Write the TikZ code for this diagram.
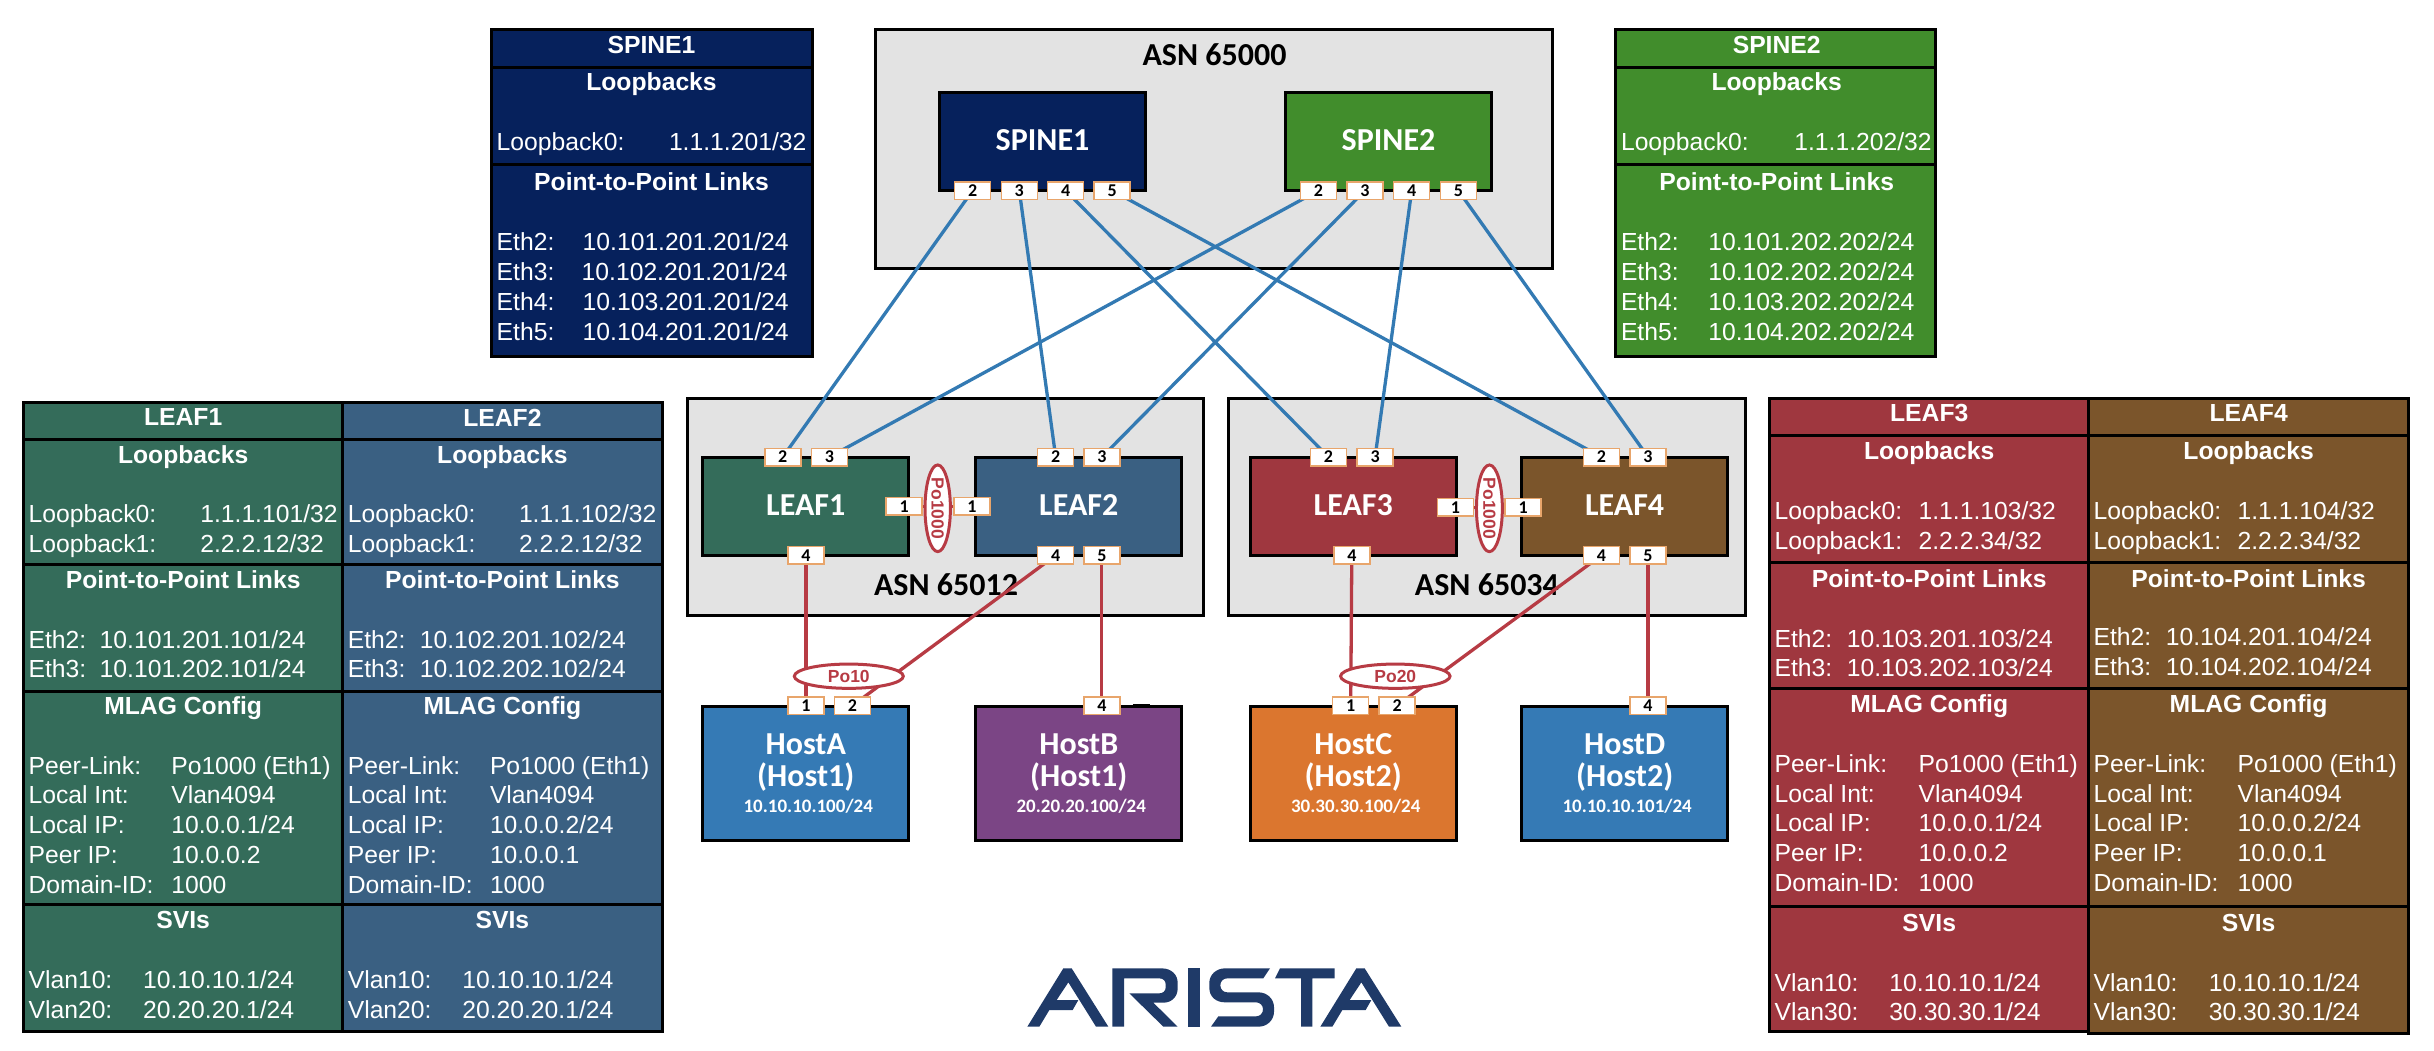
\documentclass[tikz,border=0pt]{standalone}
\usepackage{fontspec}
\setmainfont{Liberation Sans}
\newfontfamily\carl{Carlito}
\usetikzlibrary{shapes.geometric}
\pgfdeclarelayer{bg}
\pgfdeclarelayer{ln}
\pgfsetlayers{bg,ln,main}
\definecolor{cSpineA}{HTML}{06215C}
\definecolor{cSpineB}{HTML}{418D2C}
\definecolor{cLeafA}{HTML}{346C5A}
\definecolor{cLeafB}{HTML}{3A6082}
\definecolor{cLeafC}{HTML}{9F373F}
\definecolor{cLeafD}{HTML}{7B552B}
\definecolor{cHostA}{HTML}{357AB5}
\definecolor{cHostB}{HTML}{7B4585}
\definecolor{cHostC}{HTML}{DB762F}
\definecolor{cGrey}{HTML}{E3E3E3}
\definecolor{cWire}{HTML}{337AB3}
\definecolor{cRed}{HTML}{B73B44}
\definecolor{cPort}{HTML}{E8A56B}
\definecolor{cLogo}{HTML}{1F3A68}
\newcounter{tn}
\newcommand{\tabval}[3]{\stepcounter{tn}\node[tabtext,anchor=base west] (tx\arabic{tn}) at (#1,#2) {#3};}
\newcommand{\tabhead}[3]{\stepcounter{tn}\node[tabtext,anchor=base,font=\fontsize{24.7}{30}\selectfont\bfseries] (tx\arabic{tn}) at (#1,#2) {#3};}
\newcommand{\portbox}[4]{\node[portnode] (#1) at (#2,#3) {#4};}
\tikzset{
  x=1pt,y=-1pt,
  tabtext/.style={text=white,inner sep=0pt,outer sep=0pt,font=\fontsize{24.7}{30}\selectfont},
  cellbox/.style={draw=black,line width=3pt},
  asnbox/.style={draw=black,fill=cGrey,line width=3pt,inner sep=0pt,outer sep=0pt},
  asnlabel/.style={inner sep=0pt,text=black,font=\carl\fontsize{32}{32}\selectfont\bfseries},
  devbox/.style={draw=black,line width=3pt,inner sep=0pt,outer sep=0pt,text=white,minimum width=205.8pt,minimum height=98pt,text height=20pt,text depth=2.2pt,font=\carl\fontsize{32}{32}\selectfont\bfseries},
  hostbox/.style={draw=black,line width=3pt,inner sep=0pt,outer sep=0pt,text=white,minimum width=205.8pt,minimum height=133.6pt,align=center,font=\carl\fontsize{32}{32}\selectfont\bfseries},
  portnode/.style={draw=cPort,fill=white,line width=1.5pt,inner sep=0pt,outer sep=0pt,minimum width=36pt,minimum height=17.5pt,text=black,text height=11.4pt,text depth=0pt,font=\carl\fontsize{18}{18}\selectfont\bfseries},
  ponode/.style={shape=ellipse,draw=cRed,fill=white,line width=3pt,inner sep=0pt,outer sep=0pt,text=cRed,font=\fontsize{17.5}{18}\selectfont\bfseries},
  wire/.style={draw=cWire,line width=3.3pt},
  redwire/.style={draw=cRed,line width=3.3pt},
}
\newcommand{\ipline}[1]{\\[-6pt]{\fontsize{19}{19}\selectfont\hspace*{5pt}#1}}
\begin{document}
\begin{tikzpicture}
\useasboundingbox (0,0) rectangle (2434,1050);

% ---------- ASN areas
\begin{pgfonlayer}{bg}
\fill[white] (0,0) rectangle (2434,1050);
\node[asnbox,minimum width=676.5pt,minimum height=238.6pt] (asnA) at (1213.75,149) {};
\node[asnbox,minimum width=516.6pt,minimum height=217.4pt] (asnB) at (945.3,507) {};
\node[asnbox,minimum width=517pt,minimum height=217.4pt] (asnC) at (1486.5,507) {};
\node[asnlabel,anchor=base] (asnAt) at (1214.5,65.3) {ASN 65000};
\node[asnlabel,anchor=base] (asnBt) at (946,595.7) {ASN 65012};
\node[asnlabel,anchor=base] (asnCt) at (1486.9,595.7) {ASN 65034};
\end{pgfonlayer}

% ---------- devices
\node[devbox,fill=cSpineA] (spA) at (1042.5,141.5) {SPINE1};
\node[devbox,fill=cSpineB] (spB) at (1388.5,141.5) {SPINE2};
\node[devbox,fill=cLeafA] (lfA) at (805.75,506.1) {LEAF1};
\node[devbox,fill=cLeafB] (lfB) at (1078.75,506.1) {LEAF2};
\node[devbox,fill=cLeafC] (lfC) at (1353.25,506.1) {LEAF3};
\node[devbox,fill=cLeafD] (lfD) at (1624.65,506.1) {LEAF4};
\node[hostbox,fill=cHostA] (hA) at (805.75,773.5) {HostA\\(Host1)\ipline{10.10.10.100/24}};
\node[hostbox,fill=cHostB] (hB) at (1078.75,773.5) {HostB\\(Host1)\ipline{20.20.20.100/24}};
\node[hostbox,fill=cHostC] (hC) at (1353.25,773.5) {HostC\\(Host2)\ipline{30.30.30.100/24}};
\node[hostbox,fill=cHostA] (hD) at (1624.65,773.5) {HostD\\(Host2)\ipline{10.10.10.101/24}};
\draw[black,line width=2pt] (1132.9,704.6) -- (1149.6,704.6);

% ---------- ports
\portbox{sApTwo}{972.6}{190.5}{2}
\portbox{sApThree}{1019.3}{190.5}{3}
\portbox{sApFour}{1065.7}{190.5}{4}
\portbox{sApFive}{1112.1}{190.5}{5}
\portbox{sBpTwo}{1318.5}{190.5}{2}
\portbox{sBpThree}{1365}{190.5}{3}
\portbox{sBpFour}{1411.7}{190.5}{4}
\portbox{sBpFive}{1458.3}{190.5}{5}
\portbox{lApTwo}{782.8}{457}{2}
\portbox{lApThree}{829.4}{457}{3}
\portbox{lApOne}{904.2}{506.3}{1}
\portbox{lApFour}{805.9}{555.3}{4}
\portbox{lBpOne}{972}{506.3}{1}
\portbox{lBpTwo}{1055.7}{457}{2}
\portbox{lBpThree}{1102}{457}{3}
\portbox{lBpFour}{1055.7}{555.3}{4}
\portbox{lBpFive}{1101.8}{555.3}{5}
\portbox{lCpTwo}{1328.4}{457}{2}
\portbox{lCpThree}{1375.1}{457}{3}
\portbox{lCpOne}{1455.5}{507.3}{1}
\portbox{lCpFour}{1351.8}{555.3}{4}
\portbox{lDpOne}{1523.1}{507.3}{1}
\portbox{lDpTwo}{1601.4}{457}{2}
\portbox{lDpThree}{1648}{457}{3}
\portbox{lDpFour}{1601.4}{555.3}{4}
\portbox{lDpFive}{1648}{555.3}{5}
\portbox{hApOne}{805.9}{705.5}{1}
\portbox{hApTwo}{852.5}{705.5}{2}
\portbox{hBpFour}{1101.8}{705.5}{4}
\portbox{hCpOne}{1350.7}{705.5}{1}
\portbox{hCpTwo}{1397.1}{705.5}{2}
\portbox{hDpFour}{1648}{705.5}{4}

% ---------- port channels
\node[ponode,minimum width=109pt,minimum height=24.3pt] (poTen) at (848.8,676.2) {Po10};
\node[ponode,minimum width=109.5pt,minimum height=24.3pt] (poTwenty) at (1395.3,676.2) {Po20};
\node[ponode,rotate=-90,minimum width=76.7pt,minimum height=25.4pt] (poAB) at (937.7,508.3) {Po1000};
\node[ponode,rotate=-90,minimum width=76.7pt,minimum height=25.9pt] (poCD) at (1489.4,508.3) {Po1000};

% ---------- links
\begin{pgfonlayer}{ln}
\draw[wire] (sApTwo.center) -- (lApTwo.center);
\draw[wire] (sApThree.center) -- (lBpTwo.center);
\draw[wire] (sApFour.center) -- (lCpTwo.center);
\draw[wire] (sApFive.center) -- (lDpTwo.center);
\draw[wire] (sBpTwo.center) -- (lApThree.center);
\draw[wire] (sBpThree.center) -- (lBpThree.center);
\draw[wire] (sBpFour.center) -- (lCpThree.center);
\draw[wire] (sBpFive.center) -- (lDpThree.center);
\draw[redwire] (lApOne.center) -- (lBpOne.center);
\draw[redwire] (lCpOne.center) -- (lDpOne.center);
\draw[redwire] (lApFour.center) -- (hApOne.center);
\draw[redwire] (lBpFour.center) -- (hApTwo.center);
\draw[redwire] (lBpFive.center) -- (hBpFour.center);
\draw[redwire] (lCpFour.center) -- (hCpOne.center);
\draw[redwire] (lDpFour.center) -- (hCpTwo.center);
\draw[redwire] (lDpFive.center) -- (hDpFour.center);
\end{pgfonlayer}

% ---------- SPINE tables
\foreach \ya/\yb in {29/67,67/164,164/356}{
  \draw[cellbox,fill=cSpineA] (491,\ya) rectangle (812,\yb);
  \draw[cellbox,fill=cSpineB] (1615.7,\ya) rectangle (1935.7,\yb);
}
\tabhead{651.5}{53.3}{SPINE1}
\tabhead{651.5}{90}{Loopbacks}
\tabval{496.7}{150.7}{Loopback0:}
\tabval{669}{150.7}{1.1.1.201/32}
\tabhead{651.5}{190}{Point-to-Point Links}
\tabval{496.7}{250.7}{Eth2:}\tabval{582.7}{250.7}{10.101.201.201/24}
\tabval{496.7}{280}{Eth3:}\tabval{581.7}{280}{10.102.201.201/24}
\tabval{496.7}{310}{Eth4:}\tabval{582.7}{310}{10.103.201.201/24}
\tabval{496.7}{340}{Eth5:}\tabval{582.7}{340}{10.104.201.201/24}

\tabhead{1776.7}{53.3}{SPINE2}
\tabhead{1776.7}{90}{Loopbacks}
\tabval{1621}{150.7}{Loopback0:}
\tabval{1794.3}{150.7}{1.1.1.202/32}
\tabhead{1776.7}{190}{Point-to-Point Links}
\tabval{1621}{250.7}{Eth2:}\tabval{1708.3}{250.7}{10.101.202.202/24}
\tabval{1621}{280}{Eth3:}\tabval{1708.3}{280}{10.102.202.202/24}
\tabval{1621}{310}{Eth4:}\tabval{1708.3}{310}{10.103.202.202/24}
\tabval{1621}{340}{Eth5:}\tabval{1708.3}{340}{10.104.202.202/24}

% ---------- LEAF tables, left pair
\foreach \ya/\yb in {402/439.7,439.7/564.7,564.7/691,691/904.7,904.7/1031.8}{
  \draw[cellbox,fill=cLeafA] (23,\ya) rectangle (342.6,\yb);
  \draw[cellbox,fill=cLeafB] (342.6,\ya) rectangle (662.6,\yb);
}
\tabhead{183.2}{425.8}{LEAF1}
\tabhead{183.2}{463.6}{Loopbacks}
\tabval{28.6}{522.6}{Loopback0:}\tabval{200.3}{522.6}{1.1.1.101/32}
\tabval{28.6}{552.9}{Loopback1:}\tabval{200.3}{552.9}{2.2.2.12/32}
\tabhead{183.2}{588.7}{Point-to-Point Links}
\tabval{28.6}{648.4}{Eth2:}\tabval{99.7}{648.4}{10.101.201.101/24}
\tabval{28.6}{677.5}{Eth3:}\tabval{99.7}{677.5}{10.101.202.101/24}
\tabhead{183.2}{714.9}{MLAG Config}
\tabval{28.6}{774.3}{Peer-Link:}\tabval{171.3}{774.3}{Po1000 (Eth1)}
\tabval{28.6}{803.7}{Local Int:}\tabval{171.3}{803.7}{Vlan4094}
\tabval{28.6}{833.2}{Local IP:}\tabval{171.3}{833.2}{10.0.0.1/24}
\tabval{28.6}{863.5}{Peer IP:}\tabval{171.3}{863.5}{10.0.0.2}
\tabval{28.6}{893.4}{Domain-ID:}\tabval{171.3}{893.4}{1000}
\tabhead{183.2}{928.7}{SVIs}
\tabval{28.6}{988.5}{Vlan10:}\tabval{143.1}{988.5}{10.10.10.1/24}
\tabval{28.6}{1018}{Vlan20:}\tabval{143.1}{1018}{20.20.20.1/24}

\tabhead{502.4}{426.6}{LEAF2}
\tabhead{502.4}{463.6}{Loopbacks}
\tabval{347.8}{522.6}{Loopback0:}\tabval{519}{522.6}{1.1.1.102/32}
\tabval{347.8}{552.9}{Loopback1:}\tabval{519}{552.9}{2.2.2.12/32}
\tabhead{502.4}{588.7}{Point-to-Point Links}
\tabval{347.8}{648.4}{Eth2:}\tabval{419.8}{648.4}{10.102.201.102/24}
\tabval{347.8}{677.5}{Eth3:}\tabval{419.8}{677.5}{10.102.202.102/24}
\tabhead{502.4}{714.9}{MLAG Config}
\tabval{347.8}{774.3}{Peer-Link:}\tabval{490}{774.3}{Po1000 (Eth1)}
\tabval{347.8}{803.7}{Local Int:}\tabval{490}{803.7}{Vlan4094}
\tabval{347.8}{833.2}{Local IP:}\tabval{490}{833.2}{10.0.0.2/24}
\tabval{347.8}{863.5}{Peer IP:}\tabval{490}{863.5}{10.0.0.1}
\tabval{347.8}{893.4}{Domain-ID:}\tabval{490}{893.4}{1000}
\tabhead{502.4}{928.7}{SVIs}
\tabval{347.8}{988.5}{Vlan10:}\tabval{462.3}{988.5}{10.10.10.1/24}
\tabval{347.8}{1018}{Vlan20:}\tabval{462.3}{1018}{20.20.20.1/24}

% ---------- LEAF tables, right pair
\foreach \ya/\yb in {398.4/435.5,435.5/562.6,562.6/688.8,688.8/906.8,906.8/1031.4}{
  \draw[cellbox,fill=cLeafC] (1769.5,\ya) rectangle (2088.9,\yb);
}
\foreach \ya/\yb in {398.4/435.5,435.5/562.6,562.6/688.8,688.8/906.8,906.8/1033.5}{
  \draw[cellbox,fill=cLeafD] (2088.9,\ya) rectangle (2408.3,\yb);
}
\tabhead{1929.2}{421.6}{LEAF3}
\tabhead{1929.2}{459.4}{Loopbacks}
\tabval{1774.6}{519.6}{Loopback0:}\tabval{1918.6}{519.6}{1.1.1.103/32}
\tabval{1774.6}{549.1}{Loopback1:}\tabval{1918.6}{549.1}{2.2.2.34/32}
\tabhead{1929.2}{587.8}{Point-to-Point Links}
\tabval{1774.6}{647.2}{Eth2:}\tabval{1846.8}{647.2}{10.103.201.103/24}
\tabval{1774.6}{676.6}{Eth3:}\tabval{1846.8}{676.6}{10.103.202.103/24}
\tabhead{1929.2}{712.8}{MLAG Config}
\tabval{1774.6}{772.2}{Peer-Link:}\tabval{1918.6}{772.2}{Po1000 (Eth1)}
\tabval{1774.6}{802}{Local Int:}\tabval{1918.6}{802}{Vlan4094}
\tabval{1774.6}{831.9}{Local IP:}\tabval{1918.6}{831.9}{10.0.0.1/24}
\tabval{1774.6}{861.8}{Peer IP:}\tabval{1918.6}{861.8}{10.0.0.2}
\tabval{1774.6}{891.7}{Domain-ID:}\tabval{1918.6}{891.7}{1000}
\tabhead{1929.2}{931.7}{SVIs}
\tabval{1774.6}{991}{Vlan10:}\tabval{1889.4}{991}{10.10.10.1/24}
\tabval{1774.6}{1020.5}{Vlan30:}\tabval{1889.4}{1020.5}{30.30.30.1/24}

\tabhead{2248.6}{421.6}{LEAF4}
\tabhead{2248.6}{459.4}{Loopbacks}
\tabval{2093.6}{519.6}{Loopback0:}\tabval{2237.6}{519.6}{1.1.1.104/32}
\tabval{2093.6}{549.1}{Loopback1:}\tabval{2237.6}{549.1}{2.2.2.34/32}
\tabhead{2248.6}{587}{Point-to-Point Links}
\tabval{2093.6}{645.9}{Eth2:}\tabval{2165.8}{645.9}{10.104.201.104/24}
\tabval{2093.6}{675.8}{Eth3:}\tabval{2165.8}{675.8}{10.104.202.104/24}
\tabhead{2248.6}{712.8}{MLAG Config}
\tabval{2093.6}{772.2}{Peer-Link:}\tabval{2237.6}{772.2}{Po1000 (Eth1)}
\tabval{2093.6}{802}{Local Int:}\tabval{2237.6}{802}{Vlan4094}
\tabval{2093.6}{831.9}{Local IP:}\tabval{2237.6}{831.9}{10.0.0.2/24}
\tabval{2093.6}{861.8}{Peer IP:}\tabval{2237.6}{861.8}{10.0.0.1}
\tabval{2093.6}{891.7}{Domain-ID:}\tabval{2237.6}{891.7}{1000}
\tabhead{2248.6}{931.7}{SVIs}
\tabval{2093.6}{991}{Vlan10:}\tabval{2208.8}{991}{10.10.10.1/24}
\tabval{2093.6}{1020.5}{Vlan30:}\tabval{2208.8}{1020.5}{30.30.30.1/24}

% ---------- logo
\begin{scope}[shift={(1000,850)},x=0.33333pt,y=-0.33333pt,fill=cLogo]
\foreach \dx in {0,879}{
  \fill[shift={(\dx,0)}] (82,530) -- (190,355) -- (215,355) -- (325,530) -- (288,530) -- (205,397) -- (170,450) -- (235,450) -- (218,480) -- (148,480) -- (118,530) -- cycle;
}
\fill (337,355) -- (485,355) .. controls (515,355) and (533,375) .. (533,398) -- (533,415) .. controls (533,440) and (515,458) .. (490,458) -- (460,458) -- (533,530) -- (490,530) -- (388,430) -- (478,430) .. controls (490,430) and (497,422) .. (497,412) -- (497,403) .. controls (497,393) and (490,385) .. (478,385) -- (372,385) -- (372,530) -- (337,530) -- cycle;
\fill (565,355) rectangle (599,530);
\fill (810,355) -- (675,355) .. controls (648,355) and (628,375) .. (628,398) -- (628,414) .. controls (628,440) and (648,457) .. (675,457) -- (768,457) .. controls (780,457) and (789,466) .. (789,478) .. controls (789,490) and (780,499) .. (768,499) -- (655,499) -- (633,530) -- (775,530) .. controls (802,530) and (822,510) .. (822,485) -- (822,472) .. controls (822,447) and (802,427) .. (775,427) -- (682,427) .. controls (670,427) and (661,418) .. (661,406) .. controls (661,394) and (670,385) .. (682,385) -- (790,385) -- cycle;
\fill (840,355) -- (1004,355) -- (1004,385) -- (937,385) -- (937,530) -- (903,530) -- (903,385) -- (825,385) -- cycle;
\end{scope}
\end{tikzpicture}
\end{document}
